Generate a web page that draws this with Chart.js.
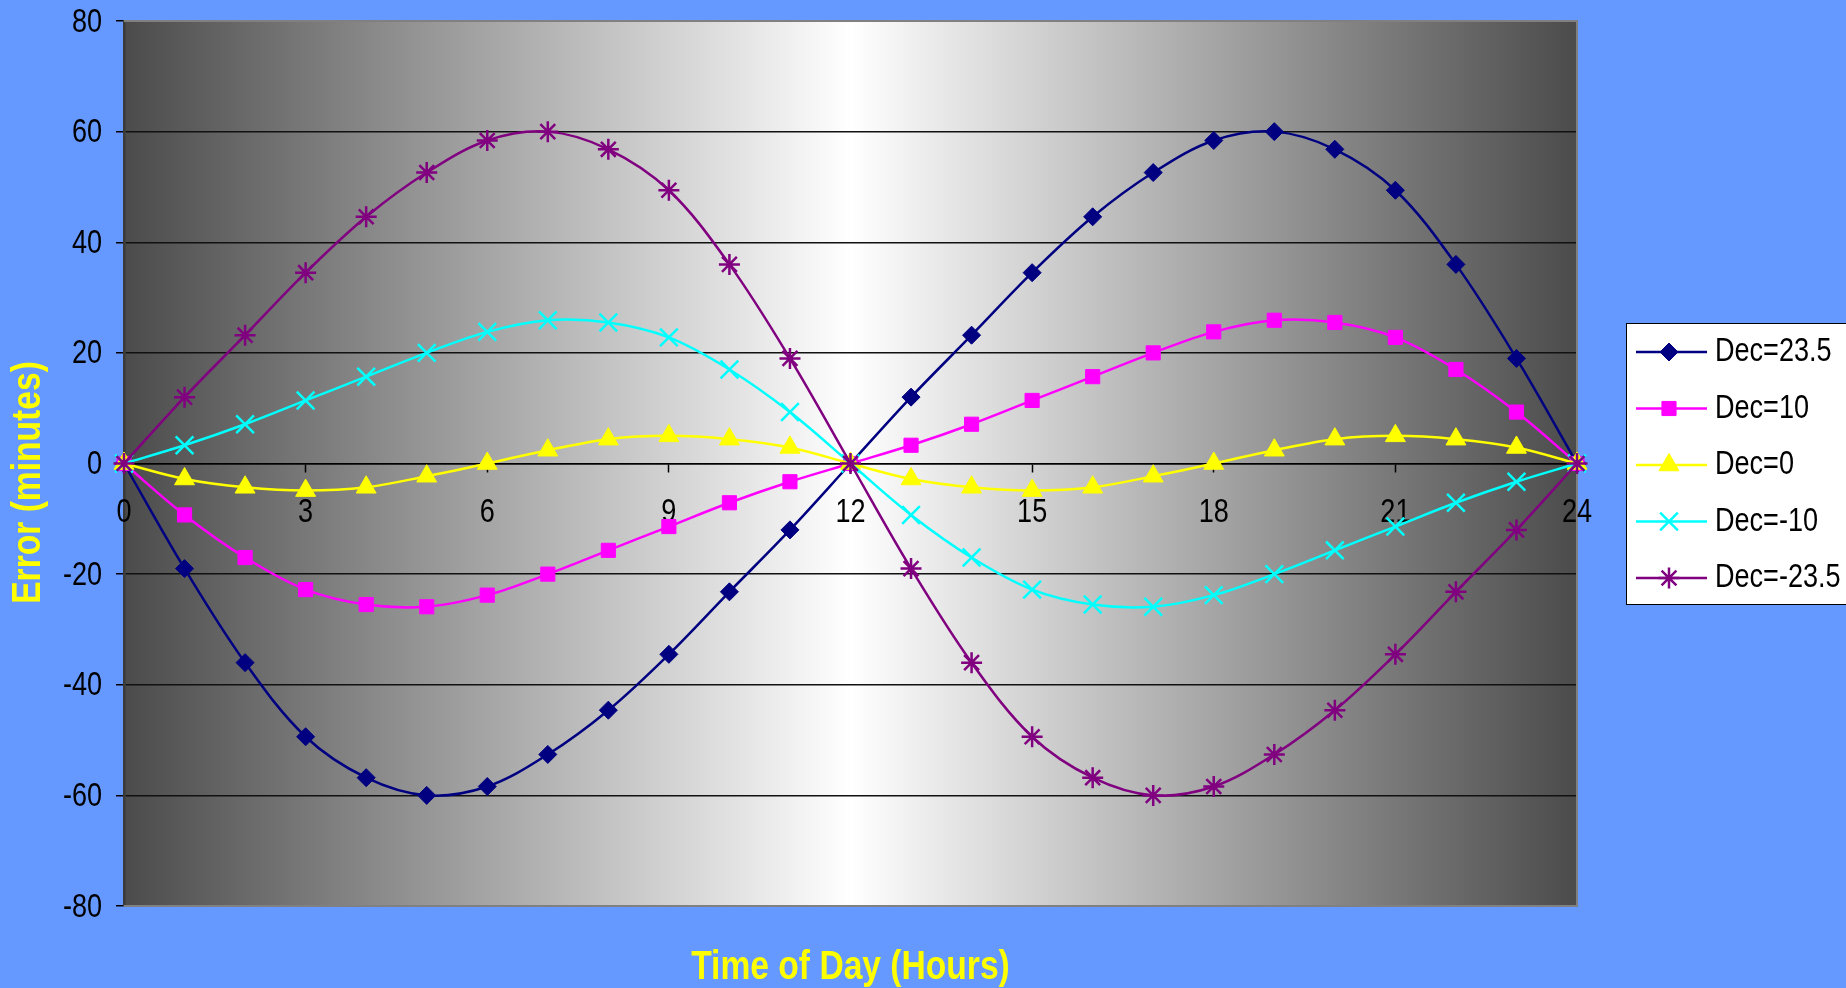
<!DOCTYPE html>
<html>
<head>
<meta charset="utf-8">
<script src="https://cdn.jsdelivr.net/npm/chart.js@4.4.0/dist/chart.umd.min.js"></script>
<style>
  html, body { margin: 0; padding: 0; background: #6699ff; overflow: hidden; }
  #chart { display: block; }
</style>
</head>
<body>
<canvas id="chart" width="1846" height="988"></canvas>
<script>
// hours of the day (x values)
const hours = [0, 1, 2, 3, 4, 5, 6, 7, 8, 9, 10, 11, 12, 13, 14, 15, 16, 17, 18, 19, 20, 21, 22, 23, 24];
const xTicks = [0, 3, 6, 9, 12, 15, 18, 21, 24];

// error in minutes, one array per declination
const dec235  = [0, -19, -36, -49.4, -56.8, -60, -58.4, -52.6, -44.6, -34.5, -23.2, -12, 0, 12, 23.2, 34.5, 44.6, 52.6, 58.4, 60, 56.8, 49.4, 36, 19, 0];
const dec10   = [0, -9.3, -17, -22.8, -25.5, -25.9, -23.8, -20, -15.7, -11.4, -7.1, -3.3, 0, 3.3, 7.1, 11.4, 15.7, 20, 23.8, 25.9, 25.5, 22.8, 17, 9.3, 0];
const dec0    = [0, -2.8, -4.3, -4.9, -4.3, -2.3, 0, 2.4, 4.4, 5, 4.4, 2.9, 0, -2.8, -4.3, -4.9, -4.3, -2.3, 0, 2.4, 4.4, 5, 4.4, 2.9, 0];
const decM10  = [0, 3.3, 7.1, 11.4, 15.7, 20, 23.8, 25.9, 25.5, 22.8, 17, 9.3, 0, -9.3, -17, -22.8, -25.5, -25.9, -23.8, -20, -15.7, -11.4, -7.1, -3.3, 0];
const decM235 = [0, 12, 23.2, 34.5, 44.6, 52.6, 58.4, 60, 56.8, 49.4, 36, 19, 0, -19, -36, -49.4, -56.8, -60, -58.4, -52.6, -44.6, -34.5, -23.2, -12, 0];

const seriesNames = ['Dec=23.5', 'Dec=10', 'Dec=0', 'Dec=-10', 'Dec=-23.5'];
const xTitle = 'Time of Day (Hours)';
const yTitle = 'Error (minutes)';

const FONT = '"Liberation Sans", Arial, sans-serif';
const NARROW = 0.82; // the original used a narrow face, squeeze text to match

function pts(vals) {
    return vals.map((v, i) => ({ x: hours[i], y: v }));
}

function series(i, vals, color, style, radius, bw) {
    return {
        label: seriesNames[i],
        data: pts(vals),
        borderColor: color,
        backgroundColor: color,
        borderWidth: 2.5,
        pointStyle: style,
        pointRadius: radius,
        pointBorderWidth: bw,
        pointBorderColor: color,
        pointBackgroundColor: color,
        tension: 0.35,
        clip: false,
        order: 4 - i   // later series drawn on top, like Excel
    };
}

function narrowText(ctx, text, x, y, align, sx) {
    ctx.save();
    ctx.translate(x, y);
    ctx.scale(sx, 1);
    ctx.textAlign = align;
    ctx.textBaseline = 'alphabetic';
    ctx.fillText(text, 0, 0);
    ctx.restore();
}

// plot background + border
const plotBg = {
    id: 'plotBg',
    beforeDraw(chart) {
        const { ctx, chartArea: a } = chart;
        ctx.save();
        const g = ctx.createLinearGradient(a.left, 0, a.right, 0);
        g.addColorStop(0, '#4b4b4b');
        g.addColorStop(0.5, '#ffffff');
        g.addColorStop(1, '#4b4b4b');
        ctx.fillStyle = g;
        ctx.fillRect(a.left, a.top, a.right - a.left, a.bottom - a.top);
        ctx.restore();
    },
    beforeDatasetsDraw(chart) {
        const { ctx, chartArea: a } = chart;
        ctx.save();
        ctx.strokeStyle = '#808080';
        ctx.lineWidth = 2;
        ctx.beginPath();
        ctx.moveTo(a.left, a.top);
        ctx.lineTo(a.right, a.top);
        ctx.lineTo(a.right, a.bottom);
        ctx.lineTo(a.left, a.bottom);
        ctx.stroke();

        // tick labels, taken from the scales
        const xs = chart.scales.x, ys = chart.scales.y;
        const y0 = ys.getPixelForValue(0);
        ctx.fillStyle = '#000000';
        ctx.font = '33px ' + FONT;
        ys.ticks.forEach(t => {
            narrowText(ctx, String(t.value), a.left - 22, ys.getPixelForValue(t.value) + 10.5, 'right', NARROW);
        });
        xs.ticks.forEach(t => {
            narrowText(ctx, String(t.value), xs.getPixelForValue(t.value), y0 + 58, 'center', NARROW);
        });
        ctx.restore();
    }
};

// axis titles
const axisTitles = {
    id: 'axisTitles',
    afterDraw(chart) {
        const { ctx, chartArea: a } = chart;
        ctx.save();
        ctx.fillStyle = '#ffff00';
        ctx.font = 'bold 40px ' + FONT;
        narrowText(ctx, xTitle, (a.left + a.right) / 2, a.bottom + 73, 'center', 0.84);
        ctx.translate(40, (a.top + a.bottom) / 2 + 19);
        ctx.rotate(-Math.PI / 2);
        narrowText(ctx, yTitle, 0, 0, 'center', 0.84);
        ctx.restore();
    }
};

// Excel style legend box: line with marker, then text
const boxLegend = {
    id: 'boxLegend',
    afterDraw(chart) {
        const { ctx, chartArea: a } = chart;
        const left = a.right + 49, top = 323, rowH = 56.5;
        ctx.save();
        ctx.fillStyle = '#ffffff';
        ctx.fillRect(left, top, 240, 281);
        ctx.strokeStyle = '#000000';
        ctx.lineWidth = 1;
        ctx.strokeRect(left + 0.5, top + 0.5, 240, 281);
        chart.data.datasets.forEach((ds, i) => {
            const y = top + 29 + i * rowH;
            ctx.strokeStyle = ds.borderColor;
            ctx.fillStyle = ds.borderColor;
            ctx.lineWidth = ds.borderWidth;
            ctx.beginPath();
            ctx.moveTo(left + 10, y);
            ctx.lineTo(left + 81, y);
            ctx.stroke();
            ctx.lineWidth = ds.pointBorderWidth;
            Chart.helpers.drawPoint(ctx, {
                pointStyle: ds.pointStyle,
                radius: ds.pointRadius,
                rotation: 0,
                borderWidth: ds.pointBorderWidth
            }, left + 43, y);
            ctx.fillStyle = '#000000';
            ctx.font = '33px ' + FONT;
            narrowText(ctx, ds.label, left + 89, y + 9, 'left', NARROW);
        });
        ctx.restore();
    }
};

const ctx = document.getElementById('chart').getContext('2d');

const chart = new Chart(ctx, {
    type: 'line',
    data: {
        datasets: [
            series(0, dec235, '#000080', 'rectRot', 9, 1),
            series(1, dec10, '#ff00ff', 'rect', 10, 1),
            series(2, dec0, '#ffff00', 'triangle', 11.5, 1),
            series(3, decM10, '#00ffff', 'crossRot', 12.5, 2.5),
            series(4, decM235, '#800080', 'star', 10.5, 2.5)
        ]
    },
    options: {
        responsive: false,
        animation: false,
        events: [],
        layout: {
            padding: { left: 0, right: 269, top: 21, bottom: 82 }
        },
        plugins: {
            legend: { display: false },
            tooltip: { enabled: false }
        },
        scales: {
            x: {
                type: 'linear',
                position: { y: 0 },
                min: 0,
                max: 24,
                afterBuildTicks: (s) => { s.ticks = xTicks.map(v => ({ value: v })); },
                ticks: { display: false },
                grid: {
                    drawOnChartArea: false,
                    drawTicks: true,
                    tickLength: 8,
                    tickColor: '#000000',
                    tickWidth: 1.5
                },
                border: { display: true, color: '#000000', width: 1.5 }
            },
            y: {
                min: -80,
                max: 80,
                afterFit: (s) => {
                    s.width = 124;
                    s.paddingTop = 0;
                    s.paddingBottom = 0;
                },
                ticks: { stepSize: 20, display: false },
                grid: {
                    color: (c) => (c.tick && Math.abs(c.tick.value) === 80) ? 'rgba(0,0,0,0)' : '#111111',
                    lineWidth: 1.5,
                    tickLength: 8,
                    tickColor: '#000000',
                    tickWidth: 1.5
                },
                border: { display: true, color: '#3a3a3a', width: 2.5 }
            }
        }
    },
    plugins: [plotBg, axisTitles, boxLegend]
});
</script>
</body>
</html>
